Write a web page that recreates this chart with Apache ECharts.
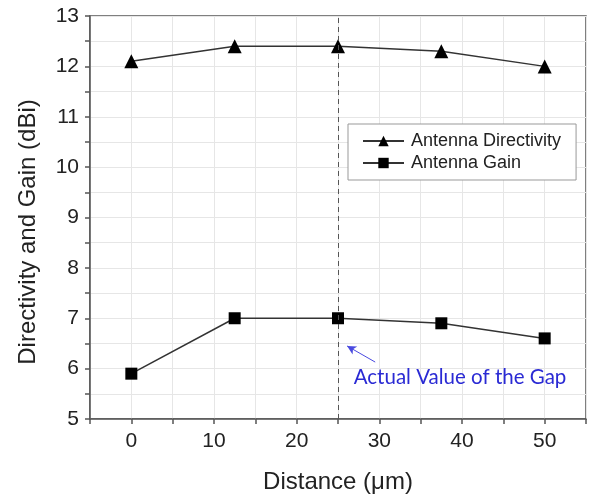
<!DOCTYPE html>
<html><head><meta charset="utf-8">
<script src="https://cdn.jsdelivr.net/npm/echarts@6/dist/echarts.min.js"></script>
<style>html,body{margin:0;padding:0;background:#fff}#c{width:594px;height:499px}</style>
</head><body><div id="c"></div>
<script>
var distance = [0, 12.5, 25, 37.5, 50];
var directivity = [12.1, 12.4, 12.4, 12.3, 12.0];
var gain = [5.9, 7.0, 7.0, 6.9, 6.6];
var gapValue = 25;
var annotationText = 'Actual Value of the Gap';
var xTitle = 'Distance (\u03bcm)';
var yTitle = 'Directivity and Gain (dBi)';

var chart = echarts.init(document.getElementById('c'));
var font = 'Liberation Sans, Arial, sans-serif';
function pts(xs, ys){ return xs.map(function(x,i){return [x, ys[i]];}); }
var option = {
  backgroundColor: '#fff',
  animation: false,
  grid: {left: 90, right: 8, top: 16, bottom: 79, show: true, borderColor: '#555', borderWidth: 1.5, backgroundColor: 'transparent'},
  legend: {
    left: 348, top: 124, orient: 'vertical',
    backgroundColor: '#fff', borderColor: '#999', borderWidth: 1,
    padding: [7, 15, 7, 14], itemGap: 2, itemWidth: 41, itemHeight: 13,
    textStyle: {fontFamily: font, fontSize: 18, lineHeight: 20, color: '#222', padding: [0,0,0,2]},
    data: ['Antenna Directivity', 'Antenna Gain']
  },
  xAxis: {
    type: 'value', min: -5, max: 55, interval: 5,
    name: xTitle, nameLocation: 'middle', nameGap: 51,
    nameTextStyle: {fontFamily: font, fontSize: 24, color: '#222'},
    axisLine: {show: true, onZero: false, lineStyle: {color: '#555', width: 1.5}},
    axisTick: {show: true, length: 5, lineStyle: {color: '#555', width: 1.5}},
    axisLabel: {fontFamily: font, fontSize: 21, color: '#222', margin: 12,
      formatter: function(v){ return (v % 10 === 0) ? String(v) : ''; }},
    splitLine: {show: true, lineStyle: {color: '#e6e6e6', width: 1}}
  },
  yAxis: {
    type: 'value', min: 5, max: 13, interval: 0.5,
    axisLine: {show: true, onZero: false, lineStyle: {color: '#555', width: 1.5}},
    axisTick: {show: true, length: 5, lineStyle: {color: '#555', width: 1.5}},
    axisLabel: {fontFamily: font, fontSize: 21, color: '#222', margin: 11,
      formatter: function(v){ return (Math.abs(v - Math.round(v)) < 1e-6) ? String(Math.round(v)) : ''; }},
    splitLine: {show: true, lineStyle: {color: '#e6e6e6', width: 1}}
  },
  graphic: [{type: 'text', x: 28, y: 232, rotation: Math.PI / 2, z: 100,
    style: {text: yTitle, fontFamily: font, fontSize: 24, fill: '#222', align: 'center', verticalAlign: 'middle'}}],
  series: [
    {
      name: 'Antenna Directivity', type: 'line', data: pts(distance, directivity),
      symbol: 'triangle', symbolSize: 14,
      lineStyle: {color: '#333', width: 1.5}, itemStyle: {color: '#000'},
      markLine: {
        silent: true, symbol: ['none','none'], label: {show: false},
        lineStyle: {color: '#555', type: [5,4], width: 1},
        data: [{xAxis: gapValue}]
      }
    },
    {
      name: 'Antenna Gain', type: 'line', data: pts(distance, gain),
      symbol: 'rect', symbolSize: 12,
      lineStyle: {color: '#333', width: 1.5}, itemStyle: {color: '#000'},
      markLine: {
        silent: true, symbol: ['none','arrow'], symbolSize: [7, 9], label: {show: false},
        lineStyle: {color: '#4a4ae0', type: 'solid', width: 1},
        data: [[{coord: [29.5, 6.13]}, {coord: [26.1, 6.45]}]]
      }
    }
  ]
};
chart.setOption(option);
var p = chart.convertToPixel({gridIndex: 0}, [26.9, 5.83]);
chart.setOption({graphic: [{}, {type: 'text', x: p[0], y: p[1], z: 100,
  style: {text: annotationText, fontFamily: 'Lato, sans-serif', fontSize: 20.5, fill: '#2a2ad4', verticalAlign: 'middle'}}]});
</script></body></html>
